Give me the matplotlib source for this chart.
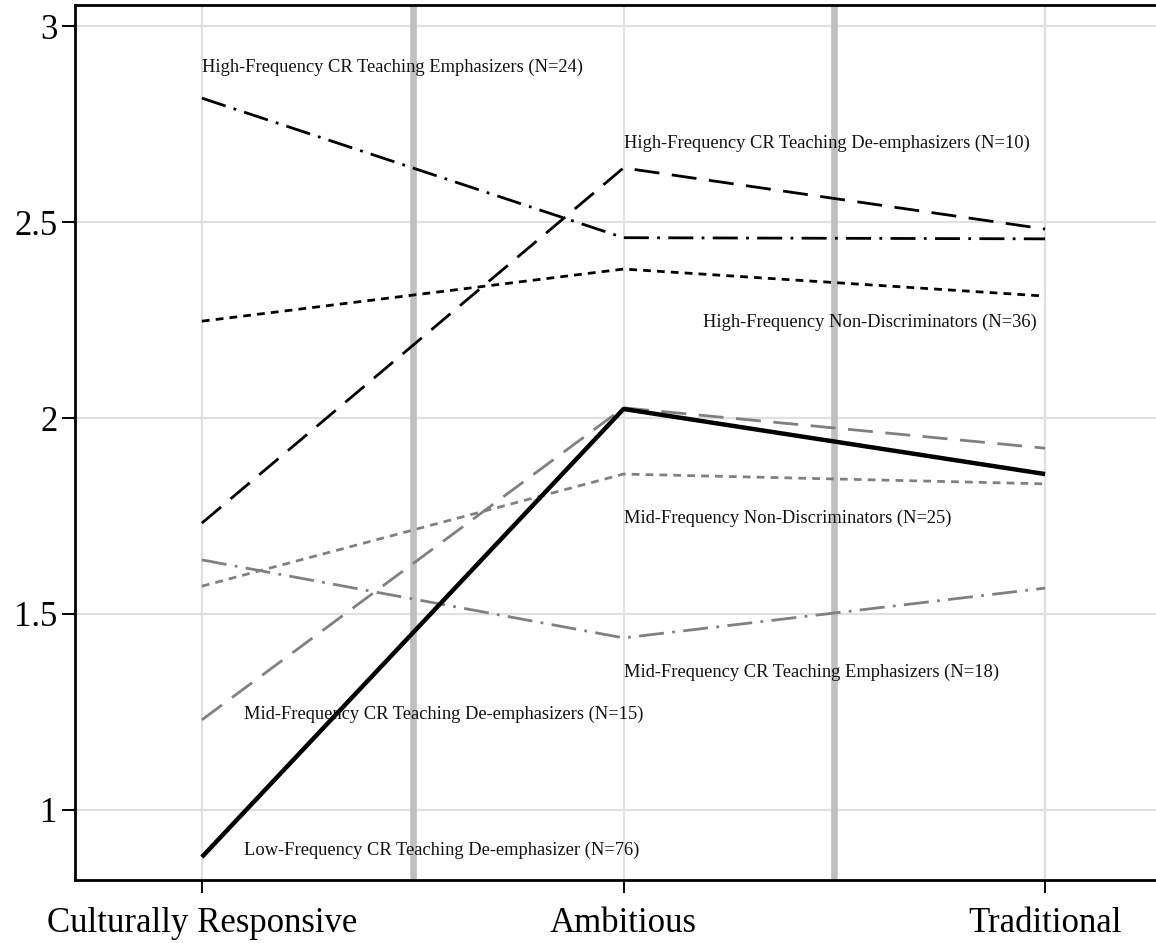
import numpy as np
import matplotlib
matplotlib.use("Agg")
import matplotlib.pyplot as plt

plt.rcParams['font.family'] = ['Liberation Serif', 'DejaVu Serif']

# 课程取向类别
categories = ["Culturally Responsive", "Ambitious", "Traditional"]

# 各组均值
hf_emph = [2.816, 2.460, 2.457]
hf_deemph = [1.732, 2.638, 2.482]
hf_nondisc = [2.247, 2.380, 2.311]
mid_deemph = [1.230, 2.026, 1.923]
low_deemph = [0.880, 2.023, 1.857]
mid_nondisc = [1.571, 1.857, 1.832]
mid_emph = [1.638, 1.439, 1.566]

group_labels = [
    "High-Frequency CR Teaching Emphasizers (N=24)",
    "High-Frequency CR Teaching De-emphasizers (N=10)",
    "High-Frequency Non-Discriminators (N=36)",
    "Mid-Frequency CR Teaching De-emphasizers (N=15)",
    "Low-Frequency CR Teaching De-emphasizer (N=76)",
    "Mid-Frequency Non-Discriminators (N=25)",
    "Mid-Frequency CR Teaching Emphasizers (N=18)",
]
# 标签位置 (x, y)
label_pos = [(0.0, 2.895), (1.0, 2.70), (1.98, 2.245), (0.1, 1.245),
             (0.1, 0.898), (1.0, 1.745), (1.0, 1.35)]
label_ha = ["left", "left", "right", "left", "left", "left", "left"]

yticks = [1, 1.5, 2, 2.5, 3]
ytick_labels = ["1", "1.5", "2", "2.5", "3"]

x = np.arange(len(categories))
black = "black"
gray = "#808080"

fig = plt.figure(figsize=(11.56, 9.43), dpi=100)
ax = fig.add_axes([75 / 1156, 63 / 943, 1 - 75 / 1156, (880 - 5) / 943])

# 网格线
for v in yticks:
    ax.axhline(v, color="#e0e0e0", lw=1.6, zorder=0)
for xi in x:
    ax.axvline(xi, color="#e0e0e0", lw=1.6, zorder=0)
# 分隔竖条
for xv in [0.5, 1.5]:
    ax.axvline(xv, color="#c0c0c0", lw=4.8, zorder=0.5)

lw = 2.0
ax.plot(x, hf_emph, color=black, lw=lw, dashes=(9, 3, 1, 3), zorder=3)
ax.plot(x, hf_deemph, color=black, lw=lw, dashes=(9, 4.5), zorder=3)
ax.plot(x, hf_nondisc, color=black, lw=lw, dashes=(2.8, 2.2), zorder=3)
ax.plot(x, mid_deemph, color=gray, lw=lw, dashes=(9, 4.5), zorder=2)
ax.plot(x, low_deemph, color=black, lw=3.2, solid_capstyle="butt", zorder=4)
ax.plot(x, mid_nondisc, color=gray, lw=lw, dashes=(2.8, 2.2), zorder=2)
ax.plot(x, mid_emph, color=gray, lw=lw, dashes=(9, 3, 1, 3), zorder=2)

for txt, (tx, ty), ha in zip(group_labels, label_pos, label_ha):
    ax.text(tx, ty, txt, ha=ha, va="center", fontsize=13.3, color="#111111", zorder=5)

ax.set_xlim(-0.301, 2.263)
ax.set_ylim(0.8214, 3.0536)
ax.set_xticks(x)
ax.set_xticklabels(categories, fontsize=25)
ax.set_yticks(yticks)
ax.set_yticklabels(ytick_labels, fontsize=25)
ax.tick_params(axis="x", length=9.5, width=1.4, pad=10)
ax.tick_params(axis="y", length=9.5, width=1.4, pad=3)

ax.spines["right"].set_visible(False)
for s in ["left", "bottom", "top"]:
    ax.spines[s].set_linewidth(2.0)

fig.savefig("out.png", dpi=100)
